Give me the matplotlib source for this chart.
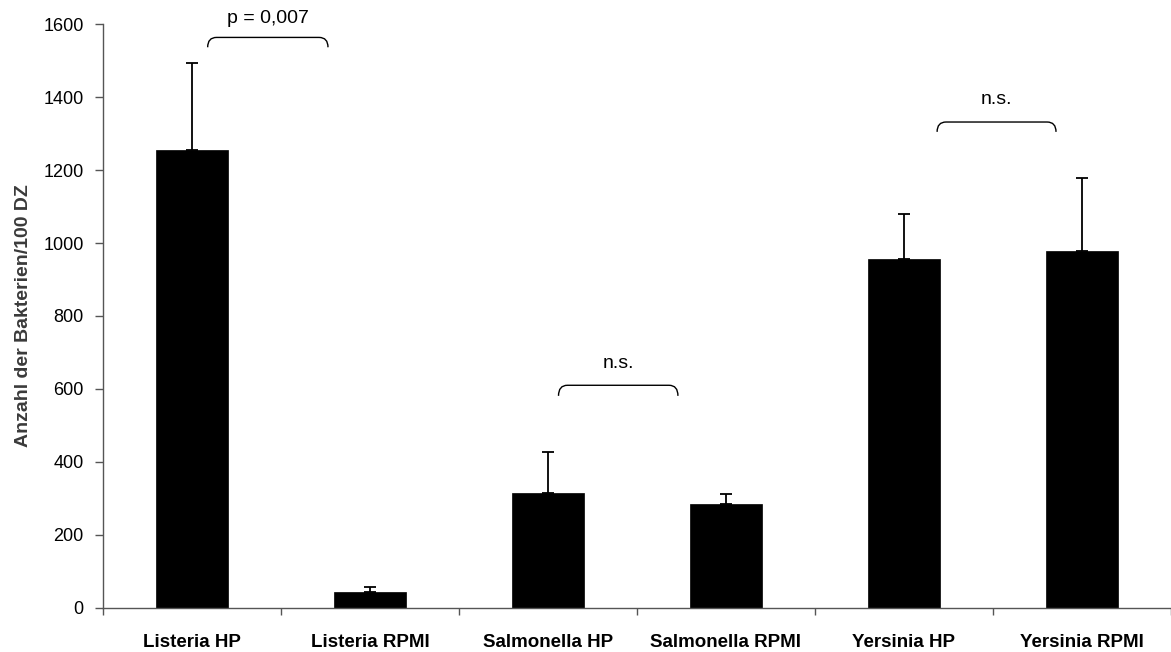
import matplotlib
matplotlib.use("Agg")
import matplotlib.pyplot as plt
from matplotlib.path import Path
from matplotlib.patches import PathPatch

plt.rcParams['font.family'] = ['Liberation Sans', 'DejaVu Sans']

categories = ["Listeria HP", "Listeria RPMI", "Salmonella HP", "Salmonella RPMI",
              "Yersinia HP", "Yersinia RPMI"]
means = [1255, 42, 314, 284, 957, 978]
errors_up = [240, 15, 114, 28, 124, 201]
yticks = [0, 200, 400, 600, 800, 1000, 1200, 1400, 1600]

# significance brackets: (x_start, x_end, y_top, y_end, label, label_y)
brackets = [
    (0.088, 0.764, 1564, 1537, "p = 0,007", 1617),
    (2.059, 2.730, 610, 581, "n.s.", 671),
    (4.186, 4.854, 1332, 1305, "n.s.", 1394),
]

W, H = 1171, 652
fig = plt.figure(figsize=(W / 100, H / 100), dpi=100)
left = 103 / W
bottom = 1 - 607.7 / H
top = 1 - 24.3 / H
ax = fig.add_axes([left, bottom, 1 - left, top - bottom])

x = list(range(len(categories)))
ax.bar(x, means, width=0.405, color='black', edgecolor='black', linewidth=0.5, zorder=2)
ax.errorbar(x, means, yerr=[[0] * len(means), errors_up], fmt='none', ecolor='black',
            elinewidth=1.3, capsize=4.5, capthick=1.3, zorder=3)

ax.set_xlim(-0.5, 5.5 - 2.4 / 178.4)
ax.set_ylim(0, 1600)
ax.set_yticks(yticks)
ax.set_yticklabels([str(v) for v in yticks], fontsize=13)

bounds = [i - 0.5 for i in range(len(categories) + 1)]
ax.set_xticks(bounds)
ax.set_xticklabels([''] * len(bounds))
ax.set_xticks(x, minor=True)
ax.set_xticklabels(categories, minor=True, fontsize=13.5, fontweight='bold')
ax.tick_params(axis='x', which='minor', length=0, pad=19)
ax.tick_params(axis='x', which='major', length=5, width=1, color='#555555', direction='out')
ax.tick_params(axis='y', length=6, width=1, color='#555555', direction='out', pad=8)

for s in ['top', 'right']:
    ax.spines[s].set_visible(False)
for s in ['left', 'bottom']:
    ax.spines[s].set_color('#555555')
    ax.spines[s].set_linewidth(1.0)

ax.set_ylabel("Anzahl der Bakterien/100 DZ", fontsize=14, fontweight='bold', color='#3a3a3a',
              labelpad=8)

for x0, x1, yt, ye, lab, ly in brackets:
    rx = 0.05
    verts = [(x0, ye), (x0, yt), (x0 + rx, yt),
             (x1 - rx, yt),
             (x1, yt), (x1, ye)]
    codes = [Path.MOVETO, Path.CURVE3, Path.CURVE3, Path.LINETO, Path.CURVE3, Path.CURVE3]
    ax.add_patch(PathPatch(Path(verts, codes), fill=False, edgecolor='black', linewidth=1.0,
                           clip_on=False, zorder=4))
    ax.text((x0 + x1) / 2, ly, lab, ha='center', va='center', fontsize=14, clip_on=False)

fig.savefig("out.png", dpi=100)
